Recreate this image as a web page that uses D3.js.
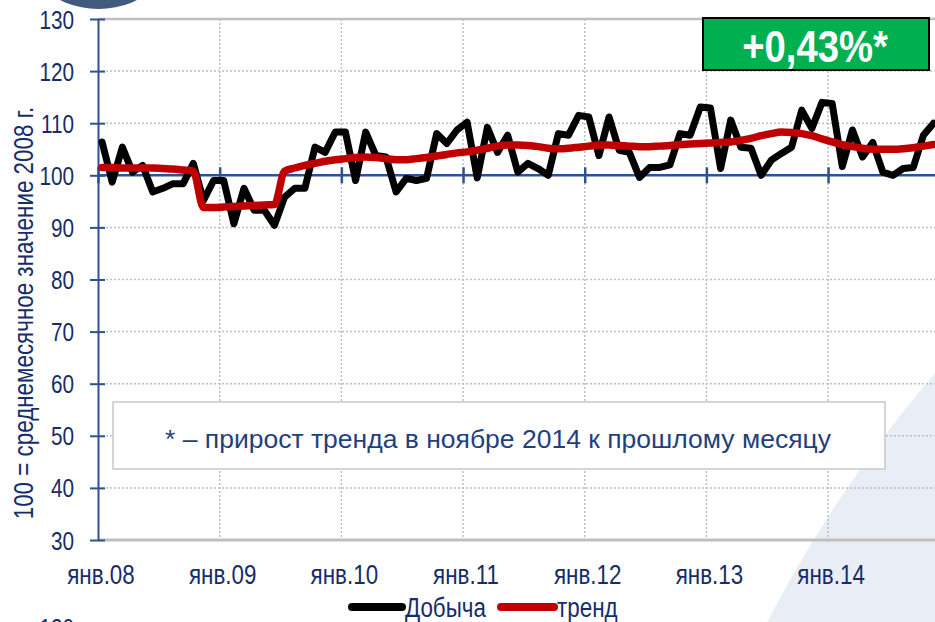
<!DOCTYPE html>
<html>
<head>
<meta charset="utf-8">
<script src="https://cdn.jsdelivr.net/npm/d3@7"></script>
<style>
  html, body { margin: 0; padding: 0; background: #fff; }
  svg { display: block; }
</style>
</head>
<body>
<div id="chart"></div>
<script>
// monthly index, янв.2008 .. ноя.2014 (83 months)
const production = [
  106.4, 98.7, 105.4, 100.6, 101.9, 96.8, 97.5, 98.4, 98.4, 102.3, 95.2, 99.0,
  99.0, 90.7, 97.5, 93.3, 93.3, 90.4, 95.8, 97.5, 97.5, 105.4, 104.4, 108.3,
  108.3, 99.0, 108.3, 103.8, 103.5, 96.8, 99.4, 99.0, 99.4, 108.0, 106.1, 108.7,
  110.2, 99.5, 109.2, 104.4, 107.7, 100.6, 102.3, 101.3, 100.0, 108.0, 107.7, 111.5,
  111.2, 103.8, 111.2, 104.8, 104.4, 99.6, 101.5, 101.5, 102.0, 108.0, 107.7, 113.1,
  112.9, 101.3, 110.6, 105.4, 105.2, 100.0, 102.9, 104.2, 105.4, 112.5, 109.0, 114.0,
  113.8, 101.7, 108.7, 103.5, 106.3, 100.6, 100.0, 101.3, 101.5, 107.7, 110.0
];
const trend = [
  101.5, 101.5, 101.4, 101.4, 101.4, 101.4, 101.3, 101.2, 101.0, 100.8, 93.8, 93.8,
  93.9, 94.0, 94.1, 94.2, 94.3, 94.4, 100.8, 101.4, 101.9, 102.3, 102.7, 103.0,
  103.2, 103.4, 103.5, 103.4, 103.2, 103.0, 103.0, 103.2, 103.4, 103.7, 104.0, 104.3,
  104.5, 104.8, 105.2, 105.6, 105.8, 105.8, 105.7, 105.5, 105.2, 105.1, 105.2, 105.4,
  105.6, 105.8, 105.8, 105.7, 105.6, 105.5, 105.5, 105.6, 105.7, 105.9, 106.0, 106.1,
  106.2, 106.3, 106.4, 106.7, 107.1, 107.6, 108.0, 108.3, 108.2, 108.0, 107.6, 107.0,
  106.4, 105.9, 105.5, 105.2, 105.0, 105.0, 105.0, 105.1, 105.3, 105.6, 105.9
];
const yearLabels = ["янв.08", "янв.09", "янв.10", "янв.11", "янв.12", "янв.13", "янв.14"];
const yTicks = [30, 40, 50, 60, 70, 80, 90, 100, 110, 120, 130];
const seriesNames = ["Добыча", "тренд"];
const badgeText = "+0,43%*";
const noteText = "* – прирост тренда в ноябре 2014 к прошлому месяцу";
const yTitle = "100 = среднемесячное значение 2008 г.";

const W = 935, H = 622;
const NAVY = "#162d69", AXIS = "#2e5290", GRID = "#bfbfbf";
const FONT = '"Liberation Sans", Arial, sans-serif';

const svg = d3.select("#chart").append("svg").attr("width", W).attr("height", H);

const x = d3.scaleLinear().domain([0, 84]).range([98, 98 + 84 * 10.14]);
const y = d3.scaleLinear().domain([30, 130]).range([540, 19]);
const px = (d, i) => x(i + 0.4);

// condensed look: regular font squeezed horizontally
function narrow(g, tx, ty, size, sx, str, anchor = "start", rot = 0) {
  return g.append("text")
    .attr("transform", `translate(${tx},${ty}) rotate(${rot}) scale(${sx},1)`)
    .attr("text-anchor", anchor).attr("font-family", FONT).attr("font-size", size)
    .attr("fill", NAVY).text(str);
}

// background decorations
svg.append("circle").attr("cx", 1940).attr("cy", 1232).attr("r", 1322).attr("fill", "#e9edf5");
svg.append("circle").attr("cx", 98.5).attr("cy", -78).attr("r", 87).attr("fill", "#415a7d");

// horizontal grid
svg.append("g").selectAll("line")
  .data(yTicks.filter(v => v > 30 && v < 130 && v !== 100))
  .join("line")
  .attr("x1", 98).attr("x2", W)
  .attr("y1", d => y(d)).attr("y2", d => y(d))
  .attr("stroke", GRID).attr("stroke-width", 1.5).attr("stroke-dasharray", "2 2");

// vertical grid
const janIdx = yearLabels.map((_, k) => k * 12);
svg.append("g").selectAll("line")
  .data(janIdx.slice(1))
  .join("line")
  .attr("x1", d => x(d)).attr("x2", d => x(d))
  .attr("y1", y(130)).attr("y2", y(30))
  .attr("stroke", GRID).attr("stroke-width", 1.5).attr("stroke-dasharray", "2 2");

// plot frame top / bottom
svg.append("line").attr("x1", 98).attr("x2", W).attr("y1", y(130)).attr("y2", y(130))
  .attr("stroke", GRID).attr("stroke-width", 2.5);
svg.append("line").attr("x1", 98).attr("x2", W).attr("y1", y(30)).attr("y2", y(30))
  .attr("stroke", GRID).attr("stroke-width", 3);

// note box
svg.append("rect").attr("x", 113).attr("y", 402).attr("width", 772).attr("height", 67)
  .attr("fill", "#fff").attr("stroke", "#c8c8c8").attr("stroke-width", 1.5);
svg.append("text").attr("x", 498).attr("y", 448).attr("text-anchor", "middle")
  .attr("font-family", FONT).attr("font-size", 26.5).attr("fill", "#1f3f7f")
  .text(noteText);

// y axis
const yAxis = svg.append("g").attr("transform", "translate(98,0)")
  .call(d3.axisLeft(y).tickValues(yTicks).tickSize(8).tickSizeOuter(0).tickFormat(""));
yAxis.select(".domain").attr("stroke", AXIS).attr("stroke-width", 2);
yAxis.selectAll(".tick line").attr("stroke", AXIS).attr("stroke-width", 2).attr("x2", 7).attr("x1", -8);
yAxis.selectAll(".tick").each(function (d) {
  narrow(d3.select(this), -24, 9, 25, 0.83, d, "end");
});

// horizontal axis at 100 with year ticks
const xAxis = svg.append("g").attr("transform", `translate(0,${y(100)})`)
  .call(d3.axisBottom(x).tickValues(janIdx).tickSize(0).tickFormat(""));
xAxis.select(".domain").attr("stroke", AXIS).attr("stroke-width", 2.5).attr("d", `M98,0H${W}`);
xAxis.selectAll(".tick line").attr("stroke", AXIS).attr("stroke-width", 2.5).attr("y1", -8).attr("y2", 8);

// year labels under the chart
const yl = svg.append("g");
yearLabels.forEach((d, k) => narrow(yl, x(k * 12) + 3, 584, 28, 0.8, d, "middle"));

// y title
narrow(svg, 33, 313, 28, 0.8, yTitle, "middle", -90);

// series
const line = d3.line().x(px).y(d => y(d));
svg.append("path").datum(production).attr("d", line)
  .attr("fill", "none").attr("stroke", "#000").attr("stroke-width", 7)
  .attr("stroke-linejoin", "round").attr("stroke-linecap", "round");
svg.append("path").datum(trend).attr("d", line.curve(d3.curveMonotoneX))
  .attr("fill", "none").attr("stroke", "#c00000").attr("stroke-width", 7.5)
  .attr("stroke-linejoin", "round").attr("stroke-linecap", "round");

// badge
svg.append("rect").attr("x", 703).attr("y", 18).attr("width", 226).attr("height", 52)
  .attr("fill", "#00b050").attr("stroke", "#000").attr("stroke-width", 2);
narrow(svg, 815, 62, 45, 0.85, badgeText, "middle")
  .attr("font-weight", "bold").attr("fill", "#fff");

// legend
const legend = svg.append("g");
const legendItems = [
  { name: seriesNames[0], color: "#000", x0: 352, x1: 402, tx: 405 },
  { name: seriesNames[1], color: "#c00000", x0: 501, x1: 554, tx: 557 }
];
legendItems.forEach(it => {
  legend.append("line").attr("x1", it.x0).attr("x2", it.x1).attr("y1", 607).attr("y2", 607)
    .attr("stroke", it.color).attr("stroke-width", 8).attr("stroke-linecap", "round");
  narrow(legend, it.tx, 617, 28, 0.8, it.name);
});

// label of the next chart peeking in at the bottom
narrow(svg, 74, 637, 25, 0.83, "130", "end");
</script>
</body>
</html>
